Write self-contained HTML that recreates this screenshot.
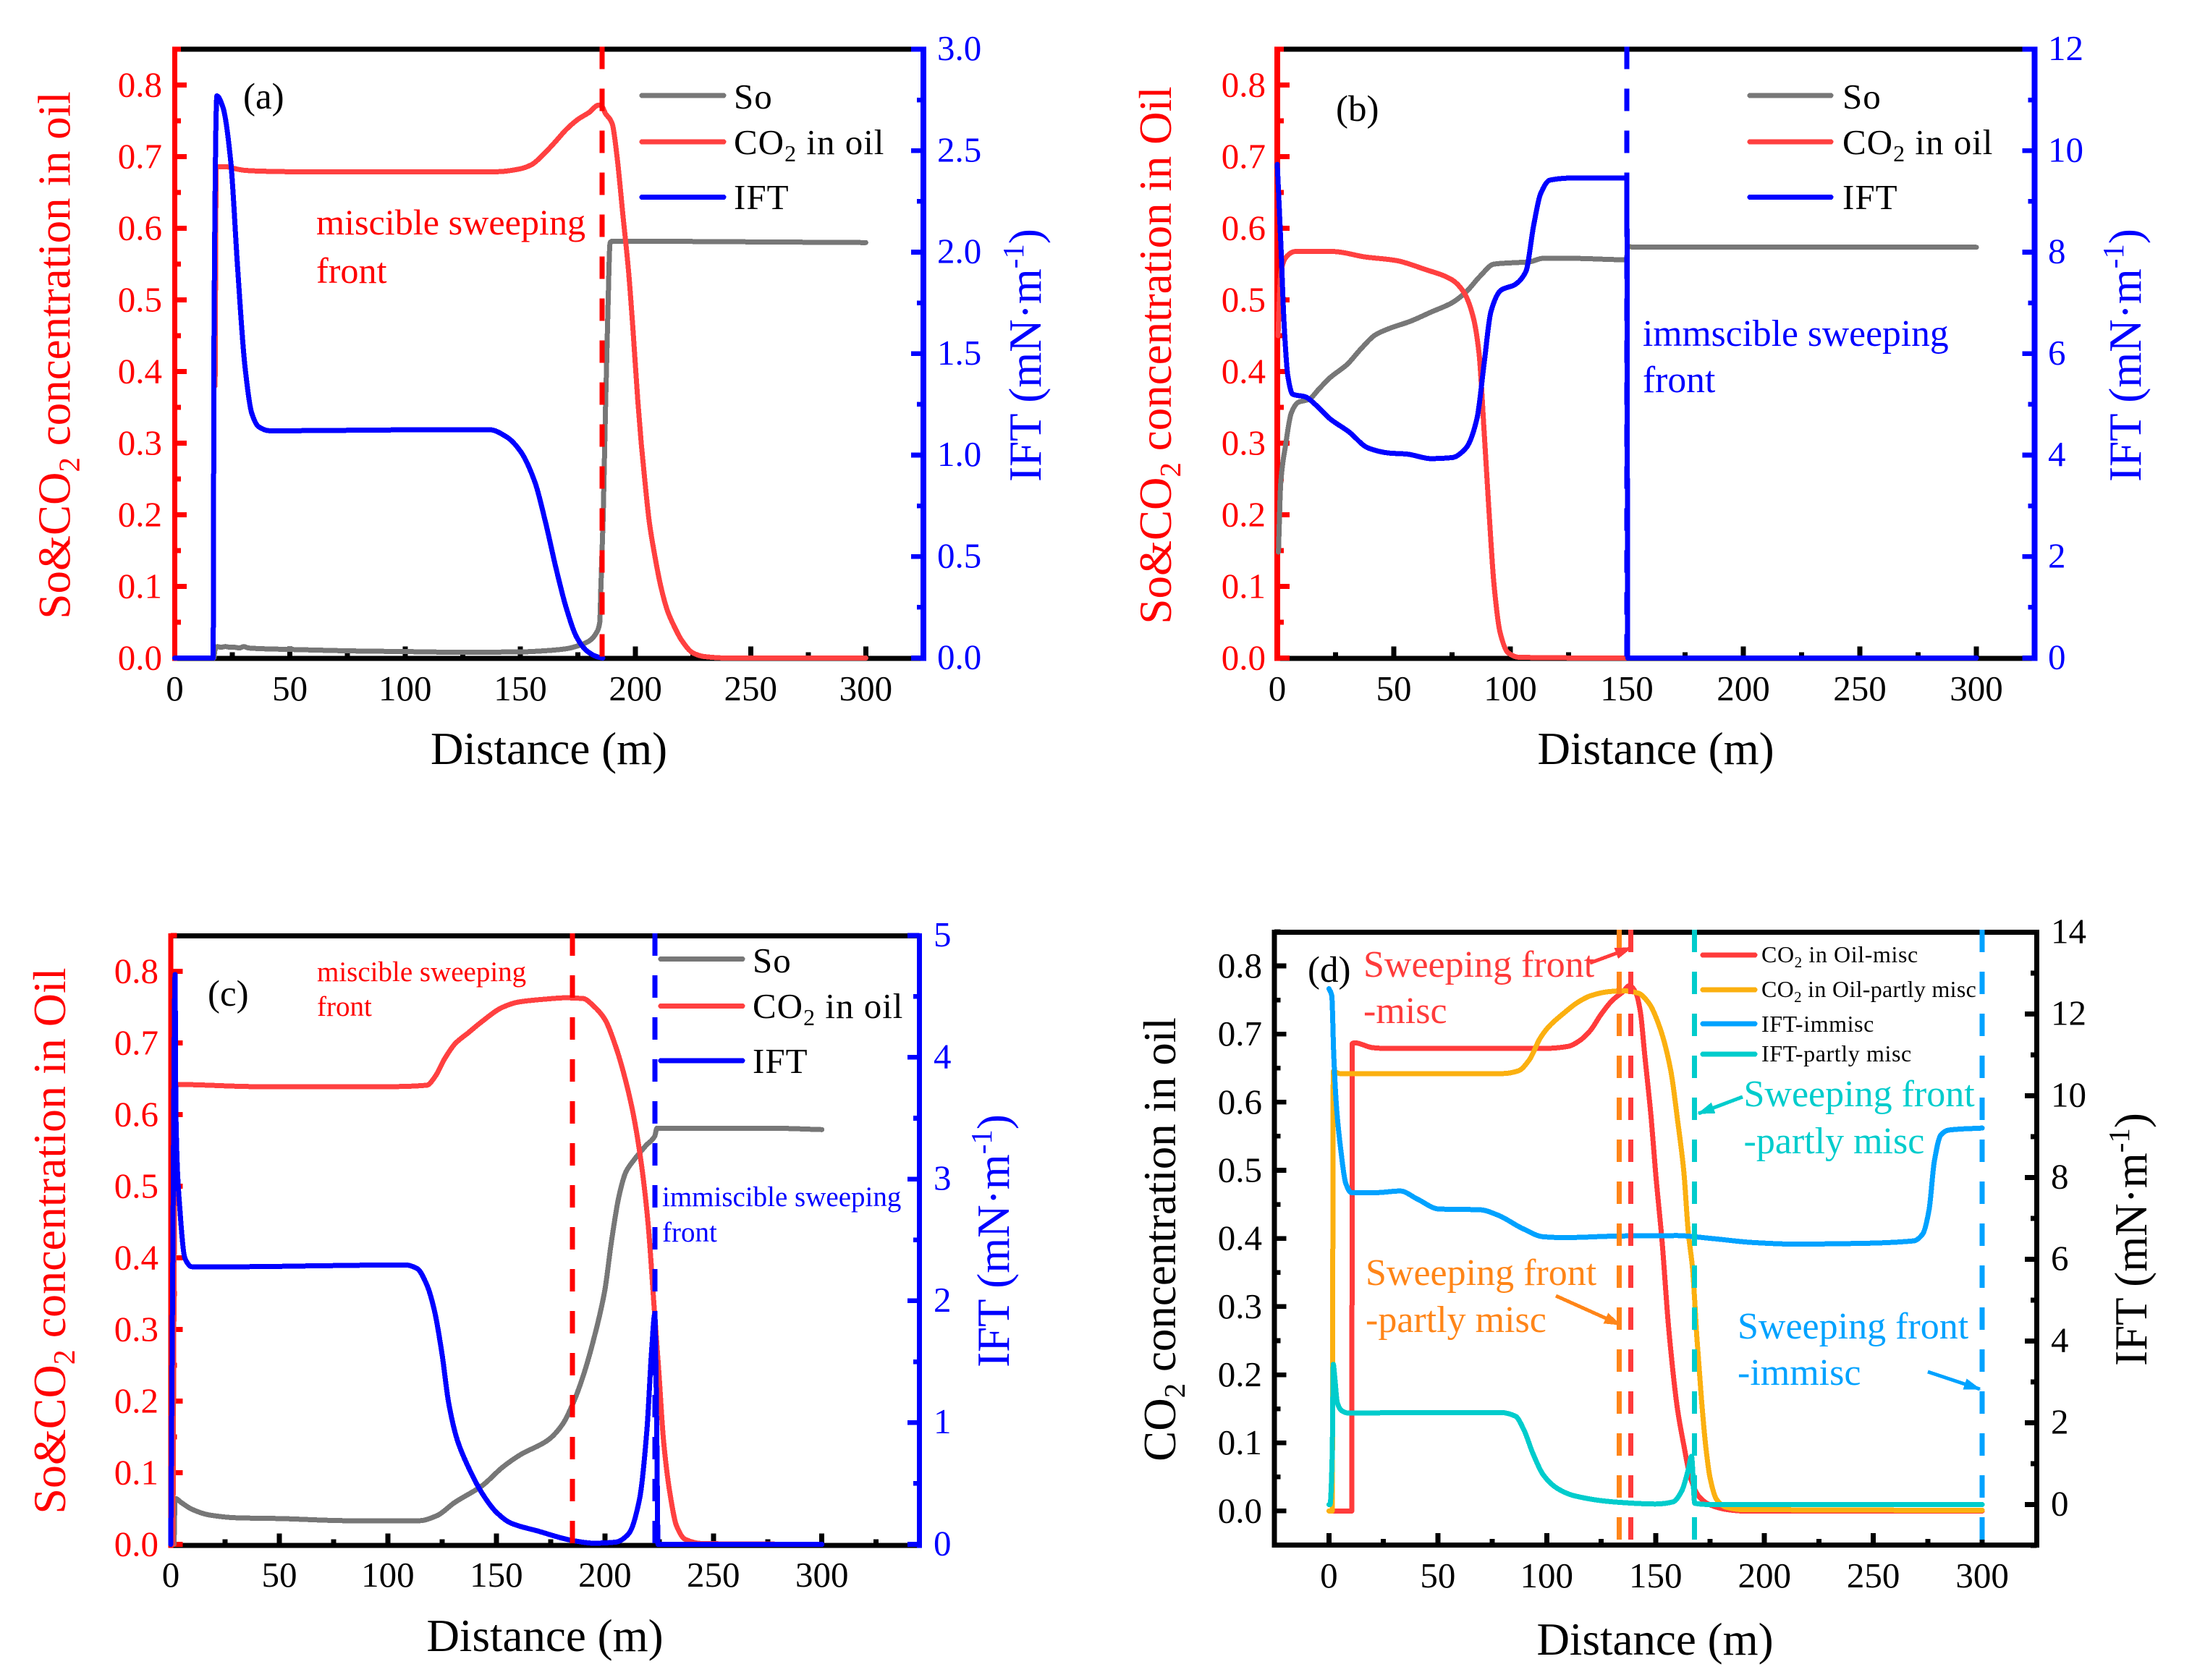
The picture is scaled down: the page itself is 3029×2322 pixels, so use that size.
<!DOCTYPE html>
<html lang="en">
<head>
<meta charset="utf-8">
<title>Sweeping front charts</title>
<style>
html,body{margin:0;padding:0;background:#fff;}
svg{display:block;}
text{font-family:"Liberation Serif","Noto Serif CJK SC",serif;}
</style>
</head>
<body>
<svg xmlns="http://www.w3.org/2000/svg" width="3029" height="2322" viewBox="0 0 3029 2322" shape-rendering="crispEdges">
<defs>
<marker id="head-red" markerUnits="userSpaceOnUse" markerWidth="24" markerHeight="20" refX="22" refY="10" orient="auto"><path d="M0 2 L24 10 L0 18 Z" fill="#ff3b3b"/></marker>
<marker id="head-orange" markerUnits="userSpaceOnUse" markerWidth="24" markerHeight="20" refX="22" refY="10" orient="auto"><path d="M0 2 L24 10 L0 18 Z" fill="#ff8518"/></marker>
<marker id="head-teal" markerUnits="userSpaceOnUse" markerWidth="24" markerHeight="20" refX="22" refY="10" orient="auto"><path d="M0 2 L24 10 L0 18 Z" fill="#00cccc"/></marker>
<marker id="head-blue" markerUnits="userSpaceOnUse" markerWidth="24" markerHeight="20" refX="22" refY="10" orient="auto"><path d="M0 2 L24 10 L0 18 Z" fill="#00a2ff"/></marker>
</defs>
<rect width="3029" height="2322" fill="#fff"/>

<!-- PANEL A -->
<g>
  <g id="marks-a"></g>
  <text x="336" y="150" font-size="51" fill="#000">(a)</text>
  <text x="437" y="324" font-size="50.2" fill="#f00">miscible sweeping</text>
  <text x="437" y="391" font-size="50.2" fill="#f00">front</text>
  <line x1="887" y1="132" x2="1000" y2="132" stroke="#777" stroke-width="7" stroke-linecap="round"/>
  <line x1="887" y1="196" x2="1000" y2="196" stroke="#ff4040" stroke-width="7" stroke-linecap="round"/>
  <line x1="887" y1="272.5" x2="1000" y2="272.5" stroke="#00f" stroke-width="7" stroke-linecap="round"/>
  <text x="1014" y="150" font-size="49" letter-spacing="1">So</text>
  <text x="1014" y="213" font-size="49" letter-spacing="1">CO<tspan font-size="32" dy="10">2</tspan><tspan dy="-10"> in oil</tspan></text>
  <text x="1014" y="289" font-size="49" letter-spacing="1">IFT</text>
  <text transform="translate(96.5,491) rotate(-90)" text-anchor="middle" font-size="63" fill="#f00">So&amp;CO<tspan font-size="41" dy="13">2</tspan><tspan dy="-13"> concentration in oil</tspan></text>
  <text transform="translate(1438,491) rotate(-90)" text-anchor="middle" font-size="63" fill="#00f">IFT (mN·m<tspan font-size="41" dy="-24">-1</tspan><tspan dy="24">)</tspan></text>
  <text x="758.5" y="1056" text-anchor="middle" font-size="63">Distance (m)</text>
</g>

<!-- PANEL B -->
<g>
  <g id="marks-b"></g>
  <text x="1846" y="167" font-size="51">(b)</text>
  <text x="2270" y="478" font-size="51.6" fill="#00f">immscible sweeping</text>
  <text x="2270" y="542" font-size="51.6" fill="#00f">front</text>
  <line x1="2418" y1="132" x2="2530" y2="132" stroke="#777" stroke-width="7" stroke-linecap="round"/>
  <line x1="2418" y1="196" x2="2530" y2="196" stroke="#ff4040" stroke-width="7" stroke-linecap="round"/>
  <line x1="2418" y1="272.5" x2="2530" y2="272.5" stroke="#00f" stroke-width="7" stroke-linecap="round"/>
  <text x="2546" y="150" font-size="49" letter-spacing="1">So</text>
  <text x="2546" y="213" font-size="49" letter-spacing="1">CO<tspan font-size="32" dy="10">2</tspan><tspan dy="-10"> in oil</tspan></text>
  <text x="2546" y="289" font-size="49" letter-spacing="1">IFT</text>
  <text transform="translate(1618,491) rotate(-90)" text-anchor="middle" font-size="63" fill="#f00">So&amp;CO<tspan font-size="41" dy="13">2</tspan><tspan dy="-13"> concentration in Oil</tspan></text>
  <text transform="translate(2958,491) rotate(-90)" text-anchor="middle" font-size="63" fill="#00f">IFT (mN·m<tspan font-size="41" dy="-24">-1</tspan><tspan dy="24">)</tspan></text>
  <text x="2288" y="1056" text-anchor="middle" font-size="63">Distance (m)</text>
</g>

<!-- PANEL C -->
<g>
  <g id="marks-c"></g>
  <text x="287" y="1390" font-size="51">(c)</text>
  <text x="438" y="1356" font-size="39" fill="#f00">miscible sweeping</text>
  <text x="438" y="1404" font-size="39" fill="#f00">front</text>
  <text x="915" y="1667" font-size="39" fill="#00f">immiscible sweeping</text>
  <text x="915" y="1716" font-size="39" fill="#00f">front</text>
  <line x1="913" y1="1325.5" x2="1026" y2="1325.5" stroke="#777" stroke-width="7" stroke-linecap="round"/>
  <line x1="913" y1="1390.5" x2="1026" y2="1390.5" stroke="#ff4040" stroke-width="7" stroke-linecap="round"/>
  <line x1="913" y1="1466" x2="1026" y2="1466" stroke="#00f" stroke-width="7" stroke-linecap="round"/>
  <text x="1040" y="1344" font-size="49" letter-spacing="1">So</text>
  <text x="1040" y="1407" font-size="49" letter-spacing="1">CO<tspan font-size="32" dy="10">2</tspan><tspan dy="-10"> in oil</tspan></text>
  <text x="1040" y="1483" font-size="49" letter-spacing="1">IFT</text>
  <text transform="translate(90,1715) rotate(-90)" text-anchor="middle" font-size="64" fill="#f00">So&amp;CO<tspan font-size="42" dy="13">2</tspan><tspan dy="-13"> concentration in Oil</tspan></text>
  <text transform="translate(1394,1715) rotate(-90)" text-anchor="middle" font-size="63" fill="#00f">IFT (mN·m<tspan font-size="41" dy="-24">-1</tspan><tspan dy="24">)</tspan></text>
  <text x="753" y="2282" text-anchor="middle" font-size="63">Distance (m)</text>
</g>

<!-- PANEL D -->
<g>
  <g id="marks-d"></g>
  <text x="1807" y="1357" font-size="51">(d)</text>
  <text x="1884" y="1350" font-size="52" fill="#ff3b3b">Sweeping front</text>
  <text x="1884" y="1414" font-size="52" fill="#ff3b3b">-misc</text>
  <line x1="2197" y1="1331" x2="2254" y2="1310" stroke="#ff3b3b" stroke-width="5" marker-end="url(#head-red)"/>
  <text x="1887" y="1776" font-size="52" fill="#ff8518">Sweeping front</text>
  <text x="1887" y="1841" font-size="52" fill="#ff8518">-partly misc</text>
  <line x1="2150" y1="1791" x2="2239" y2="1831" stroke="#ff8518" stroke-width="5" marker-end="url(#head-orange)"/>
  <text x="2409.5" y="1529" font-size="52" fill="#00cccc">Sweeping front</text>
  <text x="2409.5" y="1594" font-size="52" fill="#00cccc">-partly misc</text>
  <line x1="2408" y1="1516" x2="2347" y2="1539" stroke="#00cccc" stroke-width="5" marker-end="url(#head-teal)"/>
  <text x="2401" y="1850" font-size="52" fill="#00a2ff">Sweeping front</text>
  <text x="2401" y="1914" font-size="52" fill="#00a2ff">-immisc</text>
  <line x1="2664" y1="1896" x2="2736" y2="1920" stroke="#00a2ff" stroke-width="5" marker-end="url(#head-blue)"/>
  <line x1="2353" y1="1320" x2="2425" y2="1320" stroke="#ff3b3b" stroke-width="7" stroke-linecap="round"/>
  <line x1="2353" y1="1368" x2="2425" y2="1368" stroke="#fbb010" stroke-width="7" stroke-linecap="round"/>
  <line x1="2353" y1="1415" x2="2425" y2="1415" stroke="#00a2ff" stroke-width="7" stroke-linecap="round"/>
  <line x1="2353" y1="1457" x2="2425" y2="1457" stroke="#00cccc" stroke-width="7" stroke-linecap="round"/>
  <text x="2434" y="1330" font-size="32" letter-spacing="0.6">CO<tspan font-size="21" dy="7">2</tspan><tspan dy="-7"> in Oil-misc</tspan></text>
  <text x="2434" y="1378" font-size="32" letter-spacing="0.3">CO<tspan font-size="21" dy="7">2</tspan><tspan dy="-7"> in Oil-partly misc</tspan></text>
  <text x="2434" y="1426" font-size="32" letter-spacing="0.6">IFT-immisc</text>
  <text x="2434" y="1467" font-size="32" letter-spacing="0.6">IFT-partly misc</text>
  <text transform="translate(1624,1713) rotate(-90)" text-anchor="middle" font-size="63">CO<tspan font-size="41" dy="13">2</tspan><tspan dy="-13"> concentration in oil</tspan></text>
  <text transform="translate(2966,1713) rotate(-90)" text-anchor="middle" font-size="63">IFT (mN·m<tspan font-size="41" dy="-24">-1</tspan><tspan dy="24">)</tspan></text>
  <text x="2287" y="2287" text-anchor="middle" font-size="63">Distance (m)</text>
</g>
</svg>

<script>
// ---------- shared tick labels ----------
const xTickLabels = ["0","50","100","150","200","250","300"];
const leftTickLabels = ["0.0","0.1","0.2","0.3","0.4","0.5","0.6","0.7","0.8"];
const aRightTickLabels = ["0.0","0.5","1.0","1.5","2.0","2.5","3.0"];
const bRightTickLabels = ["0","2","4","6","8","10","12"];
const cRightTickLabels = ["0","1","2","3","4","5"];
const dRightTickLabels = ["0","2","4","6","8","10","12","14"];

// ---------- panel (a) ----------
const aSoX = [17,17.5,18.5,20,22,24,26,28,30,32,50,75,100,125,150,160,170,175,180,183,184.5,185,186,187,188,189,190,200,250,300];
const aSoY = [0,0.012,0.016,0.015,0.016,0.015,0.015,0.014,0.016,0.014,0.012,0.01,0.009,0.008,0.0085,0.01,0.013,0.017,0.024,0.035,0.05,0.1,0.2,0.35,0.48,0.58,0.582,0.582,0.581,0.58];
const aCo2X = [17.5,18,22,25,30,35,50,100,140,150,155,160,165,170,175,180,184,185.5,187,189,190,192,194.5,197,199,201,202.5,204,206,208,211,214,217,220,225,230,240,300];
const aCo2Y = [0.38,0.686,0.686,0.684,0.681,0.68,0.679,0.679,0.679,0.683,0.689,0.703,0.72,0.738,0.752,0.762,0.772,0.77,0.76,0.752,0.745,0.70,0.62,0.54,0.455,0.36,0.3,0.25,0.19,0.15,0.1,0.065,0.043,0.025,0.007,0.002,0,0];
const aIftX = [0,16.7,17,18.3,21,24.3,27.3,30.4,33.4,36.4,41,51.6,106,136.7,144,150,156.4,161,165.5,170,174.6,179,183.7,185.8];
const aIftY = [0,0,1.5,2.77,2.71,2.447,1.92,1.445,1.207,1.14,1.12,1.12,1.125,1.125,1.09,1.02,0.865,0.667,0.443,0.245,0.1,0.034,0.005,0];
const aFronts = [185.5];

// ---------- panel (b) ----------
const bSoX = [0.5,1.5,3.6,6,9,13.5,18,22.5,30,36,42,48,57,66,75,81,87,93,102,108,114,126,150,150.2,207,300];
const bSoY = [0.148,0.245,0.298,0.342,0.357,0.361,0.376,0.391,0.41,0.432,0.451,0.46,0.47,0.483,0.496,0.511,0.533,0.55,0.552,0.553,0.558,0.558,0.556,0.574,0.5735,0.5735];
const bCo2X = [0.3,1.5,3.6,7.5,24,37.6,51,63,75,80,84,86.6,88.7,90.8,93,95.6,99,103.7,150,300];
const bCo2Y = [0.45,0.537,0.559,0.5675,0.5675,0.56,0.555,0.543,0.528,0.511,0.477,0.425,0.32,0.208,0.103,0.036,0.0075,0.001,0,0];
const bIftX = [0,1.5,3,4.5,6.6,12,16.5,22.5,30.7,39,48,55.6,66,75,81,85.7,88.7,91.7,96,102,106.7,110,113,117,126,148.8,150,150.4,300];
const bIftY = [9.73,8.2,6.52,5.57,5.2,5.15,4.99,4.72,4.46,4.14,4.04,4.02,3.93,3.95,4.14,4.72,5.78,6.83,7.25,7.36,7.62,8.52,9.15,9.42,9.46,9.46,9.46,0,0];
const bFronts = [150];

// ---------- panel (c) ----------
const cSoX = [1.5,2,5,9.7,17.7,30.6,50,82,114.5,122.6,130.6,143.5,153,161,174,180.6,185.5,190,195,200,203,206.5,209.7,213,219,223,224,276,300];
const cSoY = [0,0.064,0.058,0.049,0.041,0.037,0.036,0.033,0.033,0.04,0.058,0.082,0.108,0.125,0.146,0.168,0.198,0.235,0.288,0.355,0.422,0.486,0.52,0.535,0.557,0.57,0.581,0.581,0.579];
const cCo2X = [1,2,3,40,100,118,122,126,131,137,143,153,160,172,182,190,195,200,205,209,213,217,220,222.5,225,227,230,233,237,245,300];
const cCo2Y = [0,0.641,0.642,0.639,0.639,0.641,0.654,0.677,0.699,0.714,0.729,0.75,0.757,0.761,0.763,0.762,0.751,0.733,0.695,0.654,0.602,0.527,0.445,0.34,0.235,0.146,0.071,0.026,0.007,0.001,0];
const cIftX = [0,0.8,2,2.3,4.2,6.5,9.7,34,66,108,113.5,118,121.6,125,128,132,137,143.5,150,156.5,169,185.5,195,205,211,216,219.4,221.6,223,223.9,224.5,300];
const cIftY = [0,2,4.68,3.58,2.75,2.35,2.28,2.28,2.287,2.295,2.265,2.13,1.91,1.56,1.165,0.857,0.638,0.418,0.264,0.176,0.11,0.03,0.009,0.018,0.088,0.374,0.945,1.605,1.89,0.945,0,0];
const cFronts = [185, 223];

// ---------- panel (d) ----------
const dCo2MiscX = [0,10.5,10.7,12,20,25,100,110,115,120,125,130,135,138,141,143,145,148,150,153,156,160,163,166,170,175,183,190,300];
const dCo2MiscY = [0,0,0.686,0.687,0.68,0.679,0.679,0.682,0.69,0.705,0.729,0.749,0.762,0.771,0.76,0.733,0.67,0.576,0.497,0.395,0.269,0.151,0.096,0.049,0.021,0.009,0.002,0,0];
const dCo2PartlyX = [0,1.5,2,5,50,80,87,92,97,101,108,114,120,128,135,142,147,152,157,160,163,165,167,169,171,173,175,178,182,190,300];
const dCo2PartlyY = [0,0,0.645,0.642,0.642,0.642,0.646,0.662,0.694,0.711,0.731,0.746,0.756,0.762,0.7635,0.76,0.745,0.709,0.646,0.576,0.497,0.41,0.355,0.253,0.167,0.096,0.049,0.017,0.006,0.002,0.001];
const dIftImmiscX = [0,1.3,2.2,3.5,5.5,7.7,10.3,21.5,32.7,40.7,50.4,69.6,77.6,89,98.5,108,133.8,159.5,175.5,194.7,214,233,268.5,272.7,275.6,278,281,284.6,300];
const dIftImmiscY = [12.62,12.45,11,9.7,8.65,7.86,7.63,7.63,7.67,7.47,7.23,7.21,7.08,6.75,6.55,6.53,6.57,6.58,6.51,6.41,6.37,6.38,6.45,6.62,7.21,8.39,9.04,9.16,9.21];
const dIftPartlyX = [0,0.5,1.5,2,2.6,3.85,6,8.7,53.6,79,85.7,89.5,93.7,98.5,105,113,130.6,150,158,162,165,166.5,168,175.5,300];
const dIftPartlyY = [0,0,1.2,3.43,3.15,2.49,2.29,2.24,2.25,2.25,2.16,1.83,1.245,0.72,0.39,0.21,0.065,0.013,0.065,0.33,0.85,1.18,0.03,0,0];
const dFrontPartly = [133.3];
const dFrontMisc = [138.6];
const dFrontTeal = [167.8];
const dFrontImmisc = [300];

// ---------- axis helpers ----------
const NS = "http://www.w3.org/2000/svg";
function scale(d0, d1, p0, p1) { return function (v) { return p0 + (v - d0) * (p1 - p0) / (d1 - d0); }; }
function minors(labels, d0, d1) {
  const vals = labels.map(Number);
  const step = (vals[1] - vals[0]) / 2;
  const out = [];
  for (let i = -2; vals[0] + i * step <= d1 + step * 0.01; i++) {
    const v = vals[0] + i * step;
    if (v >= d0 - step * 0.01 && ((i % 2) !== 0)) out.push(v);
  }
  return out;
}
function rect(g, x, y, w, h, fill, name) {
  const el = document.createElementNS(NS, "rect");
  el.setAttribute("x", x);
  el.setAttribute("y", y);
  el.setAttribute("width", w);
  el.setAttribute("height", h);
  el.setAttribute("fill", fill);
  
  
  g.appendChild(el);
}
function label(g, x, y, str, anchor, fill, name) {
  const el = document.createElementNS(NS, "text");
  el.setAttribute("x", x);
  el.setAttribute("y", y);
  el.setAttribute("font-size", "49");
  el.setAttribute("text-anchor", anchor);
  el.setAttribute("fill", fill);
  
  
  el.textContent = str;
  g.appendChild(el);
}
function drawAxes(g, p) {
  const T = 7, MAJ = 13, MIN = 5;
  rect(g, p.xs(p.xd[0]) - p.lw / 2, p.top - 3.5, p.xs(p.xd[1]) - p.xs(p.xd[0]) + p.lw / 2 + p.rw / 2, T, "#000", "top-spine");
  rect(g, p.xs(p.xd[0]) - p.lw / 2, p.bottom - 3.5, p.xs(p.xd[1]) - p.xs(p.xd[0]) + p.lw / 2 + p.rw / 2, T, "#000", "bottom-spine");
  xTickLabels.forEach(function (s) {
    const v = Number(s), x = p.xs(v);
    rect(g, x - 3.5, p.bottom - 3.5 - MAJ, T, MAJ, "#000", "x-tick-" + s);
    label(g, x, p.xLabelY, s, "middle", "#000", "x-tick-label-" + s);
  });
  minors(xTickLabels, p.xd[0], p.xd[1]).forEach(function (v) {
    rect(g, p.xs(v) - 3.5, p.bottom - 3.5 - MIN, T, MIN, "#000", "x-minor-tick");
  });
  const lx = p.xs(p.xd[0]), rx = p.xs(p.xd[1]);
  leftTickLabels.forEach(function (s) {
    const y = p.yl(Number(s));
    rect(g, lx, y - 3.3, p.lw / 2 + MAJ, 6.6, p.lc, "left-tick-" + s);
    label(g, p.leftLabelX, y + 16, s, "end", p.lc, "left-tick-label-" + s);
  });
  minors(leftTickLabels, p.ld[0], p.ld[1]).forEach(function (v) {
    rect(g, lx, p.yl(v) - 3.3, p.lw / 2 + MIN, 6.6, p.lc, "left-minor-tick");
  });
  p.rightLabels.forEach(function (s) {
    const y = p.yr(Number(s));
    rect(g, rx - p.rw / 2 - MAJ, y - 3.3, p.rw / 2 + MAJ, 6.6, p.rc, "right-tick-" + s);
    label(g, p.rightLabelX, y + 15, s, "start", p.rc, "right-tick-label-" + s);
  });
  minors(p.rightLabels, p.rd[0], p.rd[1]).forEach(function (v) {
    rect(g, rx - p.rw / 2 - MIN, p.yr(v) - 3.3, p.rw / 2 + MIN, 6.6, p.rc, "right-minor-tick");
  });
  rect(g, lx - p.lw / 2, p.top - 3.5, p.lw, p.bottom - p.top + T, p.lc, "left-spine");
  rect(g, rx - p.rw / 2, p.top - 3.5, p.rw, p.bottom - p.top + T, p.rc, "right-spine");
}
// monotone cubic curve through the data points (no overshoot at the sharp fronts)
function curvePath(px, py) {
  const n = px.length, h = [], m = [], t = [];
  for (let i = 0; i < n - 1; i++) {
    h.push(px[i + 1] - px[i]);
    m.push((py[i + 1] - py[i]) / h[i]);
  }
  t[0] = m[0];
  t[n - 1] = m[n - 2];
  for (let i = 1; i < n - 1; i++) {
    if (m[i - 1] * m[i] <= 0) { t[i] = 0; continue; }
    const w1 = 2 * h[i] + h[i - 1], w2 = h[i] + 2 * h[i - 1];
    t[i] = (w1 + w2) / (w1 / m[i - 1] + w2 / m[i]);
  }
  let d = "M" + px[0].toFixed(1) + " " + py[0].toFixed(1);
  for (let i = 0; i < n - 1; i++) {
    d += " C" + (px[i] + h[i] / 3).toFixed(2) + " " + (py[i] + t[i] * h[i] / 3).toFixed(2) + " " +
      (px[i + 1] - h[i] / 3).toFixed(2) + " " + (py[i + 1] - t[i + 1] * h[i] / 3).toFixed(2) + " " +
      px[i + 1].toFixed(2) + " " + py[i + 1].toFixed(2);
  }
  return d;
}
function drawSeries(g, name, xs, ys, xScale, yScale, color) {
  const el = document.createElementNS(NS, "path");
  el.setAttribute("d", curvePath(xs.map(xScale), ys.map(yScale)));
  el.setAttribute("fill", "none");
  el.setAttribute("stroke", color);
  el.setAttribute("stroke-width", "7");
  el.setAttribute("stroke-linejoin", "round");
  el.setAttribute("stroke-linecap", "round");
  
  
  g.appendChild(el);
}
function drawFronts(g, name, values, p, color) {
  values.forEach(function (v) {
    const el = document.createElementNS(NS, "line");
    el.setAttribute("x1", p.xs(v));
    el.setAttribute("x2", p.xs(v));
    el.setAttribute("y1", p.top - 3.5);
    el.setAttribute("y2", p.bottom);
    el.setAttribute("stroke", color);
    el.setAttribute("stroke-width", "7");
    el.setAttribute("stroke-dasharray", "31 27");
    
    
    g.appendChild(el);
  });
}

// ---------- panel geometry ----------
const panelA = { xd:[0,325], ld:[0,0.85], rd:[0,3], top:68, bottom:910, lw:7, rw:8, lc:"#f00", rc:"#00f",
  xs:scale(0,325,241.5,1276), yl:scale(0,0.85,909.5,68), yr:scale(0,3,909.5,68),
  leftLabelX:224, rightLabelX:1295, xLabelY:968, rightLabels:aRightTickLabels };
const panelB = { xd:[0,325], ld:[0,0.85], rd:[0,12], top:68, bottom:910, lw:8, rw:8, lc:"#f00", rc:"#00f",
  xs:scale(0,325,1765,2811.5), yl:scale(0,0.85,909.5,68), yr:scale(0,12,909.5,68),
  leftLabelX:1749, rightLabelX:2830, xLabelY:968, rightLabels:bRightTickLabels };
const panelC = { xd:[0,345], ld:[0,0.85], rd:[0,5], top:1293.5, bottom:2136, lw:7, rw:7, lc:"#f00", rc:"#00f",
  xs:scale(0,345,236,1270.7), yl:scale(0,0.85,2134.5,1293), yr:scale(0,5,2134.5,1293),
  leftLabelX:219, rightLabelX:1290, xLabelY:2193, rightLabels:cRightTickLabels };
const panelD = { xd:[-25,325], ld:[-0.05,0.85], rd:[-1,14], top:1288.5, bottom:2135.5, lw:7, rw:7, lc:"#000", rc:"#000",
  xs:scale(0,300,1836.4,2739.1), yl:scale(0,0.8,2088.4,1335), yr:scale(0,14,2079.5,1288.5),
  leftLabelX:1744, rightLabelX:2834, xLabelY:2194, rightLabels:dRightTickLabels };

// ---------- render ----------
const ga = document.getElementById("marks-a");
drawAxes(ga, panelA);
drawSeries(ga, "so-line", aSoX, aSoY, panelA.xs, panelA.yl, "#777777");
drawSeries(ga, "co2-line", aCo2X, aCo2Y, panelA.xs, panelA.yl, "#ff4040");
drawSeries(ga, "ift-line", aIftX, aIftY, panelA.xs, panelA.yr, "#0000ff");
drawFronts(ga, "miscible-front-dashed-line", aFronts, panelA, "#ff0000");

const gb = document.getElementById("marks-b");
drawAxes(gb, panelB);
drawSeries(gb, "so-line", bSoX, bSoY, panelB.xs, panelB.yl, "#777777");
drawSeries(gb, "co2-line", bCo2X, bCo2Y, panelB.xs, panelB.yl, "#ff4040");
drawSeries(gb, "ift-line", bIftX, bIftY, panelB.xs, panelB.yr, "#0000ff");
drawFronts(gb, "immiscible-front-dashed-line", bFronts, panelB, "#0000ff");

const gc = document.getElementById("marks-c");
drawAxes(gc, panelC);
drawSeries(gc, "so-line", cSoX, cSoY, panelC.xs, panelC.yl, "#777777");
drawSeries(gc, "co2-line", cCo2X, cCo2Y, panelC.xs, panelC.yl, "#ff4040");
drawSeries(gc, "ift-line", cIftX, cIftY, panelC.xs, panelC.yr, "#0000ff");
drawFronts(gc, "miscible-front-dashed-line", cFronts.slice(0, 1), panelC, "#ff0000");
drawFronts(gc, "immiscible-front-dashed-line", cFronts.slice(1), panelC, "#0000ff");

const gd = document.getElementById("marks-d");
drawAxes(gd, panelD);
drawSeries(gd, "co2-misc-line", dCo2MiscX, dCo2MiscY, panelD.xs, panelD.yl, "#ff3b3b");
drawSeries(gd, "co2-partly-misc-line", dCo2PartlyX, dCo2PartlyY, panelD.xs, panelD.yl, "#fbb010");
drawSeries(gd, "ift-immisc-line", dIftImmiscX, dIftImmiscY, panelD.xs, panelD.yr, "#00a2ff");
drawSeries(gd, "ift-partly-misc-line", dIftPartlyX, dIftPartlyY, panelD.xs, panelD.yr, "#00cccc");
drawFronts(gd, "partly-misc-front-dashed-line", dFrontPartly, panelD, "#ff8518");
drawFronts(gd, "misc-front-dashed-line", dFrontMisc, panelD, "#ff3b3b");
drawFronts(gd, "partly-misc-teal-front-dashed-line", dFrontTeal, panelD, "#00cccc");
drawFronts(gd, "immisc-front-dashed-line", dFrontImmisc, panelD, "#00a2ff");
</script>
</body>
</html>
